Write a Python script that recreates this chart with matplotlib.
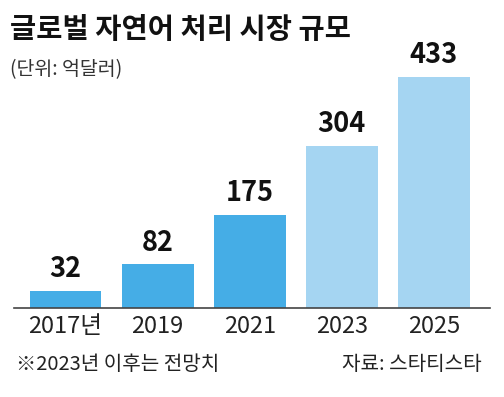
import matplotlib.pyplot as plt

plt.rcParams['font.family'] = ['Noto Sans CJK KR', 'DejaVu Sans']

# data
years = ['2017년', '2019', '2021', '2023', '2025']
values = [32, 82, 175, 304, 433]
colors = ['#45ade6', '#45ade6', '#45ade6', '#a5d5f2', '#a5d5f2']

fig = plt.figure(figsize=(5.04, 3.97), dpi=100)
ax = fig.add_axes([14 / 504, 1 - 308 / 397, 476 / 504, 268 / 397])

x = range(len(values))
ax.bar(x, values, width=0.78, color=colors)
for i, v in zip(x, values):
    ax.text(i, v + 14, str(v), ha='center', va='bottom', fontsize=19.5,
            fontweight='bold', color='#111111')

ax.set_xlim(-0.56, 4.61)
ax.set_ylim(0, 502)
ax.set_xticks(list(x))
ax.set_xticklabels(years, fontsize=17, color='#222222')
ax.tick_params(axis='x', length=0, pad=5)
ax.set_yticks([])
for s in ['top', 'left', 'right']:
    ax.spines[s].set_visible(False)
ax.spines['bottom'].set_color('#444444')
ax.spines['bottom'].set_linewidth(1.2)

fig.text(10 / 504, 1 - 30 / 397, '글로벌 자연어 처리 시장 규모', fontsize=20.5,
         fontweight='bold', va='center', ha='left', color='#111111')
fig.text(10 / 504, 1 - 70 / 397, '(단위: 억달러)', fontsize=14,
         va='center', ha='left', color='#333333')
fig.text(16 / 504, 1 - 364 / 397, '※2023년 이후는 전망치', fontsize=14.5,
         va='center', ha='left', color='#222222')
fig.text(482 / 504, 1 - 364 / 397, '자료: 스타티스타', fontsize=14.5,
         va='center', ha='right', color='#222222')

fig.savefig('out.png', dpi=100, facecolor='white')
